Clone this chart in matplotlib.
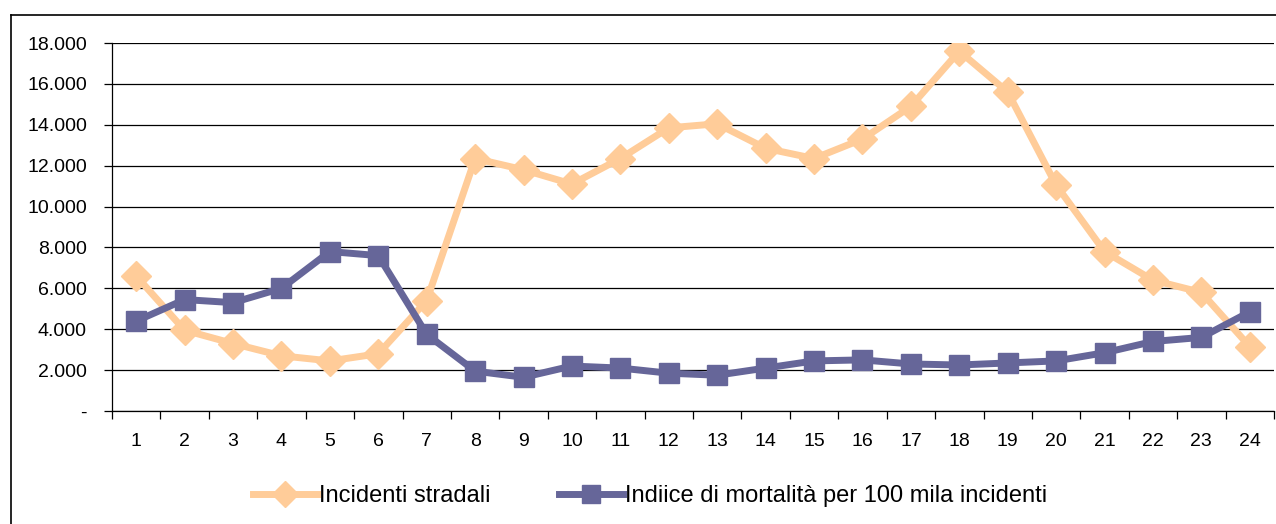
import numpy as np
import matplotlib.pyplot as plt
from matplotlib.lines import Line2D
from matplotlib.ticker import FuncFormatter, FixedLocator

plt.rcParams['font.family'] = ['Liberation Sans', 'DejaVu Sans']

# hours of the day
ore = list(range(1, 25))
incidenti = [6600, 3950, 3300, 2700, 2450, 2800, 5400, 12350, 11800, 11100, 12350, 13850,
             14050, 12850, 12350, 13300, 14900, 17600, 15600, 11050, 7800, 6400, 5800, 3150]
mortalita = [4400, 5450, 5300, 6000, 7800, 7600, 3750, 1950, 1650, 2200, 2100, 1850,
             1750, 2100, 2450, 2500, 2300, 2250, 2350, 2450, 2850, 3400, 3600, 4850]

col_inc = '#FFCC99'
col_mor = '#666699'

W, H = 1276, 524
fig = plt.figure(figsize=(W / 100, H / 100), dpi=100)
ax = fig.add_axes([112 / W, 1 - 411 / H, (1274 - 112) / W, (411 - 43) / H])

x = np.arange(len(ore))
ax.plot(x, incidenti, color=col_inc, lw=5, marker='D', ms=15, mec=col_inc,
        label='Incidenti stradali', zorder=3)
ax.plot(x, mortalita, color=col_mor, lw=5, marker='s', ms=15, mec=col_mor,
        label='Indiice di mortalità per 100 mila incidenti', zorder=4)

ax.set_xlim(-0.5, len(ore) - 0.5)
ax.set_ylim(0, 18000)
ax.set_yticks(np.arange(0, 18001, 2000))
ax.yaxis.set_major_formatter(FuncFormatter(
    lambda v, p: '-' if v == 0 else f'{int(v):,}'.replace(',', '.')))
ax.grid(axis='y', color='black', lw=0.9)
ax.set_axisbelow(True)

# category ticks between points, labels centered
ax.xaxis.set_major_locator(FixedLocator(np.arange(-0.5, len(ore), 1)))
ax.xaxis.set_major_formatter(FuncFormatter(lambda v, p: ''))
ax.xaxis.set_minor_locator(FixedLocator(x))
ax.set_xticklabels([str(o) for o in ore], minor=True)
ax.tick_params(axis='x', which='major', length=6, width=0.9, direction='out')
ax.tick_params(axis='x', which='minor', length=0, pad=16, labelsize=14)
ax.tick_params(axis='y', length=6, width=0.9, pad=12, labelsize=14)

for s in ['top', 'right']:
    ax.spines[s].set_visible(False)
for s in ['left', 'bottom']:
    ax.spines[s].set_linewidth(0.9)

fig.legend(loc='center', bbox_to_anchor=(650 / W, 1 - 496 / H), ncol=2, frameon=False,
           fontsize=17, handlelength=2.7, columnspacing=2.9, handletextpad=0.1,
           markerscale=0.85)

# outer chart frame
fig.add_artist(Line2D([11 / W, 11 / W], [0, 1 - 15 / H], color='black', lw=1.2))
fig.add_artist(Line2D([11 / W, 1], [1 - 15 / H, 1 - 15 / H], color='black', lw=1.2))

fig.savefig('out.png', dpi=100)
